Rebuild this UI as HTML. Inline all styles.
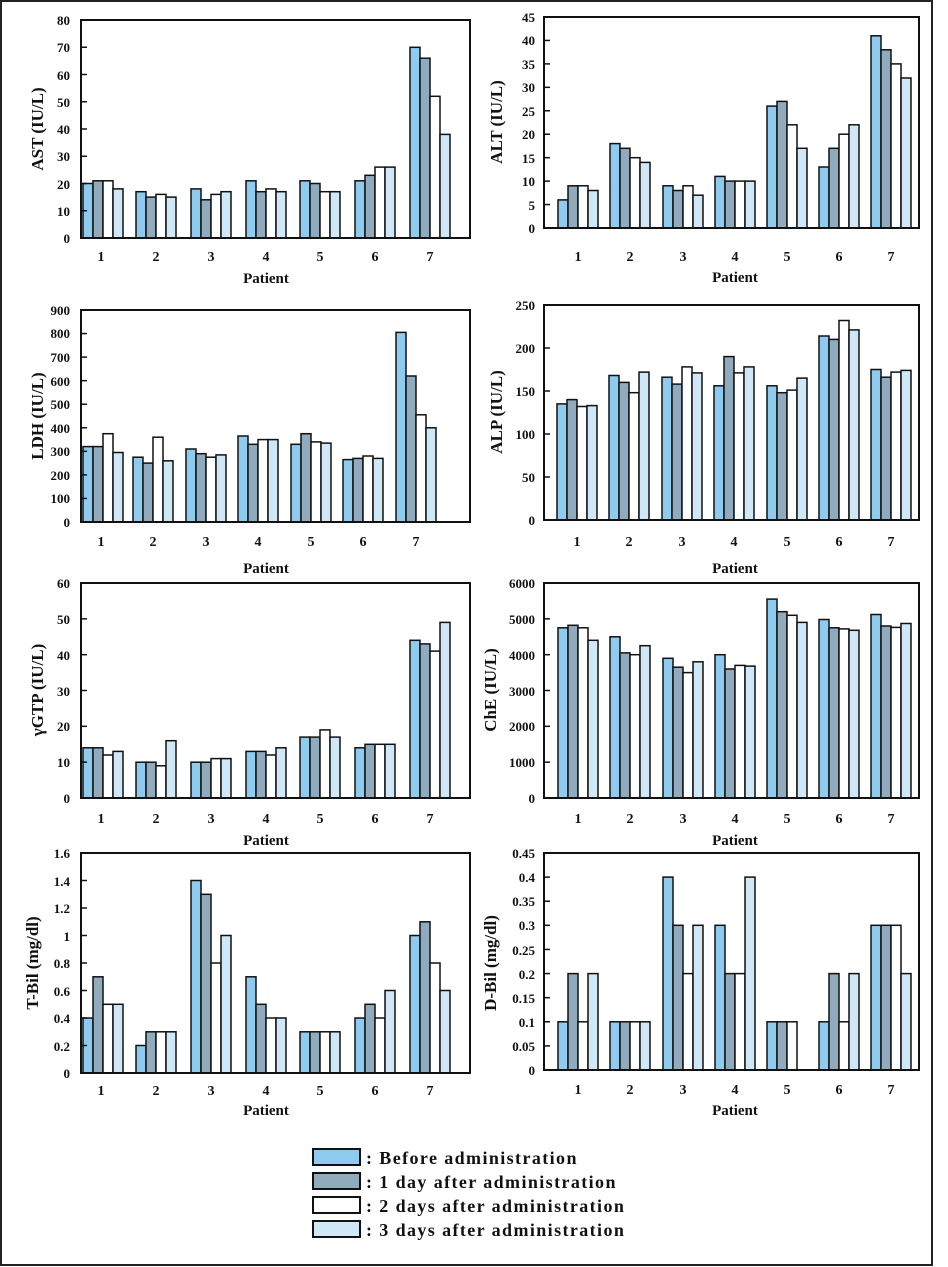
<!DOCTYPE html>
<html><head><meta charset="utf-8"><style>
body{margin:0;background:#fff}
svg{display:block}
text{font-family:"Liberation Serif",serif;font-weight:bold;fill:#111}
.t{font-size:13px;text-anchor:end}
.c{font-size:14px;text-anchor:middle}
.p{font-size:15px;text-anchor:middle}
.y{font-size:17px;text-anchor:middle}
.l{font-size:18px;letter-spacing:1.4px}
</style></head><body>
<svg id="s" width="948" height="1267" xmlns="http://www.w3.org/2000/svg">
<rect x="1" y="1" width="931" height="1264" fill="none" stroke="#222" stroke-width="2"/>
<g id="bars"></g>
<text x="70" y="243" class="t">0</text><text x="70" y="216" class="t">10</text><text x="70" y="189" class="t">20</text><text x="70" y="161" class="t">30</text><text x="70" y="134" class="t">40</text><text x="70" y="107" class="t">50</text><text x="70" y="80" class="t">60</text><text x="70" y="52" class="t">70</text><text x="70" y="25" class="t">80</text>
<text class="c" x="101" y="261">1</text><text class="c" x="156" y="261">2</text><text class="c" x="211" y="261">3</text><text class="c" x="266" y="261">4</text><text class="c" x="320" y="261">5</text><text class="c" x="375" y="261">6</text><text class="c" x="430" y="261">7</text>
<text class="p" x="266" y="283">Patient</text>
<text class="y" transform="translate(43,129) rotate(-90)">AST (IU/L)</text>
<text class="t" x="535" y="233">0</text><text class="t" x="535" y="210">5</text><text class="t" x="535" y="186">10</text><text class="t" x="535" y="163">15</text><text class="t" x="535" y="139">20</text><text class="t" x="535" y="116">25</text><text class="t" x="535" y="92">30</text><text class="t" x="535" y="69">35</text><text class="t" x="535" y="45">40</text><text class="t" x="535" y="22">45</text>
<text class="c" x="578" y="261">1</text><text class="c" x="630" y="261">2</text><text class="c" x="683" y="261">3</text><text class="c" x="735" y="261">4</text><text class="c" x="787" y="261">5</text><text class="c" x="839" y="261">6</text><text class="c" x="891" y="261">7</text>
<text class="p" x="735" y="282">Patient</text>
<text class="y" transform="translate(502,122) rotate(-90)">ALT (IU/L)</text>
<text class="t" x="70" y="527">0</text><text class="t" x="70" y="503">100</text><text class="t" x="70" y="480">200</text><text class="t" x="70" y="456">300</text><text class="t" x="70" y="433">400</text><text class="t" x="70" y="409">500</text><text class="t" x="70" y="386">600</text><text class="t" x="70" y="362">700</text><text class="t" x="70" y="338">800</text><text class="t" x="70" y="315">900</text>
<text class="c" x="101" y="546">1</text><text class="c" x="153" y="546">2</text><text class="c" x="206" y="546">3</text><text class="c" x="258" y="546">4</text><text class="c" x="311" y="546">5</text><text class="c" x="363" y="546">6</text><text class="c" x="416" y="546">7</text>
<text class="p" x="266" y="573">Patient</text>
<text class="y" transform="translate(43,416) rotate(-90)">LDH (IU/L)</text>
<text class="t" x="535" y="525">0</text><text class="t" x="535" y="482">50</text><text class="t" x="535" y="439">100</text><text class="t" x="535" y="396">150</text><text class="t" x="535" y="353">200</text><text class="t" x="535" y="310">250</text>
<text class="c" x="577" y="546">1</text><text class="c" x="629" y="546">2</text><text class="c" x="682" y="546">3</text><text class="c" x="734" y="546">4</text><text class="c" x="787" y="546">5</text><text class="c" x="839" y="546">6</text><text class="c" x="891" y="546">7</text>
<text class="p" x="735" y="573">Patient</text>
<text class="y" transform="translate(502,412) rotate(-90)">ALP (IU/L)</text>
<text class="t" x="70" y="803">0</text><text class="t" x="70" y="767">10</text><text class="t" x="70" y="731">20</text><text class="t" x="70" y="696">30</text><text class="t" x="70" y="660">40</text><text class="t" x="70" y="624">50</text><text class="t" x="70" y="588">60</text>
<text class="c" x="101" y="823">1</text><text class="c" x="156" y="823">2</text><text class="c" x="211" y="823">3</text><text class="c" x="266" y="823">4</text><text class="c" x="320" y="823">5</text><text class="c" x="375" y="823">6</text><text class="c" x="430" y="823">7</text>
<text class="p" x="266" y="845">Patient</text>
<text class="y" transform="translate(43,690) rotate(-90)">γGTP (IU/L)</text>
<text class="t" x="535" y="803">0</text><text class="t" x="535" y="767">1000</text><text class="t" x="535" y="731">2000</text><text class="t" x="535" y="696">3000</text><text class="t" x="535" y="660">4000</text><text class="t" x="535" y="624">5000</text><text class="t" x="535" y="588">6000</text>
<text class="c" x="578" y="823">1</text><text class="c" x="630" y="823">2</text><text class="c" x="683" y="823">3</text><text class="c" x="735" y="823">4</text><text class="c" x="787" y="823">5</text><text class="c" x="839" y="823">6</text><text class="c" x="891" y="823">7</text>
<text class="p" x="735" y="845">Patient</text>
<text class="y" transform="translate(496,690) rotate(-90)">ChE (IU/L)</text>
<text class="t" x="70" y="1078">0</text><text class="t" x="70" y="1051">0.2</text><text class="t" x="70" y="1023">0.4</text><text class="t" x="70" y="996">0.6</text><text class="t" x="70" y="968">0.8</text><text class="t" x="70" y="941">1</text><text class="t" x="70" y="913">1.2</text><text class="t" x="70" y="886">1.4</text><text class="t" x="70" y="858">1.6</text>
<text class="c" x="101" y="1095">1</text><text class="c" x="156" y="1095">2</text><text class="c" x="211" y="1095">3</text><text class="c" x="266" y="1095">4</text><text class="c" x="320" y="1095">5</text><text class="c" x="375" y="1095">6</text><text class="c" x="430" y="1095">7</text>
<text class="p" x="266" y="1115">Patient</text>
<text class="y" transform="translate(38,963) rotate(-90)">T-Bil (mg/dl)</text>
<text class="t" x="535" y="1075">0</text><text class="t" x="535" y="1051">0.05</text><text class="t" x="535" y="1027">0.1</text><text class="t" x="535" y="1003">0.15</text><text class="t" x="535" y="979">0.2</text><text class="t" x="535" y="955">0.25</text><text class="t" x="535" y="930">0.3</text><text class="t" x="535" y="906">0.35</text><text class="t" x="535" y="882">0.4</text><text class="t" x="535" y="858">0.45</text>
<text class="c" x="578" y="1094">1</text><text class="c" x="630" y="1094">2</text><text class="c" x="683" y="1094">3</text><text class="c" x="735" y="1094">4</text><text class="c" x="787" y="1094">5</text><text class="c" x="839" y="1094">6</text><text class="c" x="891" y="1094">7</text>
<text class="p" x="735" y="1115">Patient</text>
<text class="y" transform="translate(496,963) rotate(-90)">D-Bil (mg/dl)</text>
<rect x="313" y="1149" width="47" height="16" fill="#8ecbef" stroke="#111" stroke-width="2"/>
<rect x="313" y="1173" width="47" height="16" fill="#8fabbd" stroke="#111" stroke-width="2"/>
<rect x="313" y="1197" width="47" height="16" fill="#fff" stroke="#111" stroke-width="2"/>
<rect x="313" y="1221" width="47" height="16" fill="#cfe8f8" stroke="#111" stroke-width="2"/>
<text class="l" x="366" y="1164">: Before administration</text>
<text class="l" x="366" y="1188">: 1 day after administration</text>
<text class="l" x="366" y="1212">: 2 days after administration</text>
<text class="l" x="366" y="1236">: 3 days after administration</text>
</svg>
<script>
var P=[
{x0:81,x1:470,yt:20,yb:238,max:80,step:10,c:[103,156,211,266,320,375,430],d:[[20,21,21,18],[17,15,16,15],[18,14,16,17],[21,17,18,17],[21,20,17,17],[21,23,26,26],[70,66,52,38]]},
{x0:544,x1:919,yt:17,yb:228,max:45,step:5,c:[578,630,683,735,787,839,891],d:[[6,9,9,8],[18,17,15,14],[9,8,9,7],[11,10,10,10],[26,27,22,17],[13,17,20,22],[41,38,35,32]]},
{x0:81,x1:470,yt:310,yb:522,max:900,step:100,c:[103,153,206,258,311,363,416],d:[[320,320,375,295],[275,250,360,260],[310,290,275,285],[365,330,350,350],[330,375,340,335],[265,270,280,270],[805,620,455,400]]},
{x0:544,x1:919,yt:305,yb:520,max:250,step:50,c:[577,629,682,734,787,839,891],d:[[135,140,132,133],[168,160,148,172],[166,158,178,171],[156,190,171,178],[156,148,151,165],[214,210,232,221],[175,166,172,174]]},
{x0:81,x1:470,yt:583,yb:798,max:60,step:10,c:[103,156,211,266,320,375,430],d:[[14,14,12,13],[10,10,9,16],[10,10,11,11],[13,13,12,14],[17,17,19,17],[14,15,15,15],[44,43,41,49]]},
{x0:544,x1:919,yt:583,yb:798,max:6000,step:1000,c:[578,630,683,735,787,839,891],d:[[4750,4820,4750,4400],[4500,4050,4000,4250],[3900,3650,3500,3800],[4000,3600,3700,3680],[5550,5200,5100,4900],[4980,4750,4720,4680],[5120,4800,4760,4870]]},
{x0:81,x1:470,yt:853,yb:1073,max:1.6,step:0.2,c:[103,156,211,266,320,375,430],d:[[.4,.7,.5,.5],[.2,.3,.3,.3],[1.4,1.3,.8,1],[.7,.5,.4,.4],[.3,.3,.3,.3],[.4,.5,.4,.6],[1,1.1,.8,.6]]},
{x0:544,x1:919,yt:853,yb:1070,max:0.45,step:0.05,c:[578,630,683,735,787,839,891],d:[[.1,.2,.1,.2],[.1,.1,.1,.1],[.4,.3,.2,.3],[.3,.2,.2,.4],[.1,.1,.1,0],[.1,.2,.1,.2],[.3,.3,.3,.2]]}];
var col=["#8ecbef","#8fabbd","#ffffff","#cfe8f8"],h="";
P.forEach(function(p){
 var k=(p.yb-p.yt)/p.max;
 p.d.forEach(function(g,i){g.forEach(function(v,j){if(v<=0)return;var x=p.c[i]-20+j*10,y=p.yb-v*k;
  h+='<rect x="'+x+'" y="'+y.toFixed(1)+'" width="10" height="'+(v*k).toFixed(1)+'" fill="'+col[j]+'" stroke="#111" stroke-width="1.5"/>';});});
 h+='<rect x="'+p.x0+'" y="'+p.yt+'" width="'+(p.x1-p.x0)+'" height="'+(p.yb-p.yt)+'" fill="none" stroke="#111" stroke-width="2"/>';
 var n=Math.round(p.max/p.step);for(var i=0;i<=n;i++){var y=p.yb-i*p.step*k;h+='<line x1="'+p.x0+'" x2="'+(p.x0+6)+'" y1="'+y+'" y2="'+y+'" stroke="#111" stroke-width="1.5"/>';}
});
document.getElementById("bars").innerHTML=h;
</script>
</body></html>
